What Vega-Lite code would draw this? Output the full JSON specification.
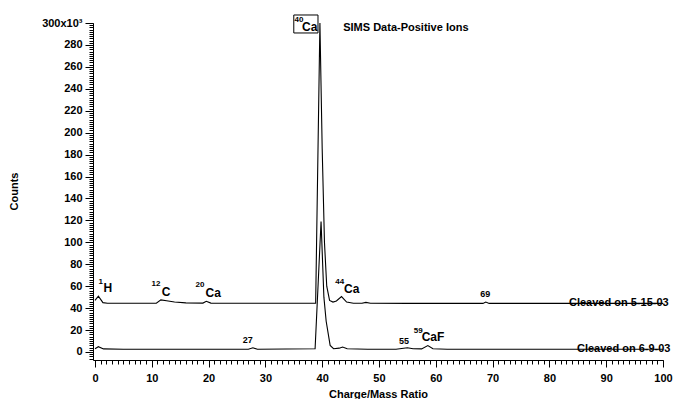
{
  "$schema": "https://vega.github.io/schema/vega-lite/v6.json",
  "autosize": {"type": "pad"},
  "width": 570,
  "height": 337,
  "padding": {"left": 8, "top": 14, "right": 5, "bottom": 5},
  "config": {
    "view": {"stroke": null},
    "font": "Liberation Sans",
    "text": {"font": "Liberation Sans", "fontWeight": "bold", "color": "black"},
    "axis": {
      "ticks": true,
      "domain": true,
      "tickColor": "#000",
      "domainColor": "#000",
      "labelFont": "Liberation Sans",
      "labelFontWeight": "bold",
      "labelFontSize": 11,
      "labelColor": "black",
      "titleFont": "Liberation Sans",
      "titleFontWeight": "bold",
      "titleFontSize": 11,
      "titleColor": "black",
      "grid": true,
      "gridOpacity": 0
    }
  },
  "resolve": {"axis": {"x": "independent", "y": "independent"}},
  "datasets": {
    "spectra": [
      {"mz": 0, "counts": 47, "sample": "5-15-03"},
      {"mz": 0.6, "counts": 51, "sample": "5-15-03"},
      {"mz": 1.4, "counts": 45, "sample": "5-15-03"},
      {"mz": 2.2, "counts": 44.5, "sample": "5-15-03"},
      {"mz": 6, "counts": 44.5, "sample": "5-15-03"},
      {"mz": 10.8, "counts": 44.5, "sample": "5-15-03"},
      {"mz": 11.6, "counts": 47.5, "sample": "5-15-03"},
      {"mz": 12.6, "counts": 46.8, "sample": "5-15-03"},
      {"mz": 14, "counts": 45.6, "sample": "5-15-03"},
      {"mz": 16, "counts": 44.8, "sample": "5-15-03"},
      {"mz": 19, "counts": 44.6, "sample": "5-15-03"},
      {"mz": 19.6, "counts": 46.2, "sample": "5-15-03"},
      {"mz": 20.4, "counts": 44.6, "sample": "5-15-03"},
      {"mz": 25, "counts": 44.5, "sample": "5-15-03"},
      {"mz": 30, "counts": 44.5, "sample": "5-15-03"},
      {"mz": 35, "counts": 44.5, "sample": "5-15-03"},
      {"mz": 38.85, "counts": 44.5, "sample": "5-15-03"},
      {"mz": 39.6, "counts": 300, "sample": "5-15-03"},
      {"mz": 40.0, "counts": 185, "sample": "5-15-03"},
      {"mz": 40.4, "counts": 100, "sample": "5-15-03"},
      {"mz": 40.8, "counts": 60, "sample": "5-15-03"},
      {"mz": 41.3, "counts": 47, "sample": "5-15-03"},
      {"mz": 41.9, "counts": 45.5, "sample": "5-15-03"},
      {"mz": 42.5, "counts": 46.5, "sample": "5-15-03"},
      {"mz": 43.4, "counts": 50.5, "sample": "5-15-03"},
      {"mz": 44.3, "counts": 45.5, "sample": "5-15-03"},
      {"mz": 45.5, "counts": 44.5, "sample": "5-15-03"},
      {"mz": 47, "counts": 44.5, "sample": "5-15-03"},
      {"mz": 47.7, "counts": 45.2, "sample": "5-15-03"},
      {"mz": 48.5, "counts": 44.5, "sample": "5-15-03"},
      {"mz": 55, "counts": 44.3, "sample": "5-15-03"},
      {"mz": 65, "counts": 44.3, "sample": "5-15-03"},
      {"mz": 68.3, "counts": 44.3, "sample": "5-15-03"},
      {"mz": 68.8, "counts": 45.5, "sample": "5-15-03"},
      {"mz": 69.4, "counts": 44.3, "sample": "5-15-03"},
      {"mz": 75, "counts": 44.3, "sample": "5-15-03"},
      {"mz": 100, "counts": 44.3, "sample": "5-15-03"},
      {"mz": 0, "counts": 3, "sample": "6-9-03"},
      {"mz": 0.6, "counts": 4.8, "sample": "6-9-03"},
      {"mz": 1.5, "counts": 2.8, "sample": "6-9-03"},
      {"mz": 5, "counts": 2.5, "sample": "6-9-03"},
      {"mz": 20, "counts": 2.5, "sample": "6-9-03"},
      {"mz": 27, "counts": 2.5, "sample": "6-9-03"},
      {"mz": 27.8, "counts": 3.8, "sample": "6-9-03"},
      {"mz": 28.6, "counts": 2.5, "sample": "6-9-03"},
      {"mz": 38.75, "counts": 3, "sample": "6-9-03"},
      {"mz": 39.8, "counts": 119, "sample": "6-9-03"},
      {"mz": 40.3, "counts": 50, "sample": "6-9-03"},
      {"mz": 40.7, "counts": 28, "sample": "6-9-03"},
      {"mz": 41.4, "counts": 6, "sample": "6-9-03"},
      {"mz": 42, "counts": 3, "sample": "6-9-03"},
      {"mz": 43, "counts": 3.5, "sample": "6-9-03"},
      {"mz": 43.6, "counts": 4.5, "sample": "6-9-03"},
      {"mz": 44.4, "counts": 3, "sample": "6-9-03"},
      {"mz": 48, "counts": 2.5, "sample": "6-9-03"},
      {"mz": 53, "counts": 2.5, "sample": "6-9-03"},
      {"mz": 55, "counts": 3.8, "sample": "6-9-03"},
      {"mz": 56, "counts": 3, "sample": "6-9-03"},
      {"mz": 57.5, "counts": 2.8, "sample": "6-9-03"},
      {"mz": 58.6, "counts": 5.8, "sample": "6-9-03"},
      {"mz": 59.5, "counts": 3, "sample": "6-9-03"},
      {"mz": 62, "counts": 2.5, "sample": "6-9-03"},
      {"mz": 100, "counts": 2.5, "sample": "6-9-03"}
    ],
    "notes": [
      {"mz": 1.0, "counts": 63.8, "text": "1", "kind": "sup"},
      {"mz": 10.74, "counts": 62.0, "text": "12", "kind": "sup"},
      {"mz": 18.5, "counts": 61.1, "text": "20", "kind": "sup"},
      {"mz": 43.1, "counts": 63.8, "text": "44", "kind": "sup"},
      {"mz": 56.9, "counts": 19, "text": "59", "kind": "sup"},
      {"mz": 35.9, "counts": 302.7, "text": "40", "kind": "sup"},
      {"mz": 2.24, "counts": 57.9, "text": "H", "kind": "el"},
      {"mz": 12.5, "counts": 54.7, "text": "C", "kind": "el"},
      {"mz": 20.8, "counts": 53.8, "text": "Ca", "kind": "el"},
      {"mz": 45.2, "counts": 57.4, "text": "Ca", "kind": "el"},
      {"mz": 59.5, "counts": 13.7, "text": "CaF", "kind": "el"},
      {"mz": 37.8, "counts": 296.4, "text": "Ca", "kind": "el"},
      {"mz": 68.7, "counts": 52.9, "text": "69", "kind": "num"},
      {"mz": 26.9, "counts": 10.9, "text": "27", "kind": "num"},
      {"mz": 54.4, "counts": 10, "text": "55", "kind": "num"},
      {"mz": 43.7, "counts": 295.4, "text": "SIMS Data-Positive Ions", "kind": "title"},
      {"mz": 83.45, "counts": 44.3, "text": "Cleaved on 5-15-03", "kind": "tag"},
      {"mz": 84.85, "counts": 2.7, "text": "Cleaved on 6-9-03", "kind": "tag"}
    ],
    "box": [
      {"mz": 35.0, "mz2": 39.26, "counts": 307.3, "counts2": 290.9}
    ]
  },
  "layer": [
    {
      "data": {"name": "spectra"},
      "mark": {"type": "line", "color": "black", "strokeWidth": 1.1},
      "encoding": {
        "x": {
          "field": "mz",
          "type": "quantitative",
          "scale": {"domain": [-0.35, 100], "nice": false, "zero": false},
          "axis": {
            "orient": "bottom",
            "title": "Charge/Mass Ratio",
            "tickCount": 10,
            "ticks": true,
            "domain": true,
            "tickColor": "#000",
            "domainColor": "#000",
            "tickSize": 7,
            "labelPadding": 5,
            "labelFlush": false,
            "titleX": 285,
            "titleY": 34,
            "titleBaseline": "middle"
          }
        },
        "y": {
          "field": "counts",
          "type": "quantitative",
          "scale": {"domain": [-7.3, 300], "nice": false, "zero": false},
          "axis": {
            "orient": "left",
            "title": "Counts",
            "tickCount": 15,
            "labelExpr": "datum.value === 300 ? '300x10³' : datum.label",
            "labelFlush": false,
            "ticks": true,
            "domain": true,
            "tickColor": "#000",
            "domainColor": "#000",
            "tickSize": 8,
            "labelPadding": 3,
            "titleX": -79,
            "titleY": 168,
            "titleAlign": "center",
            "titleBaseline": "middle"
          }
        },
        "detail": {"field": "sample"}
      }
    },
    {
      "data": {"name": "box"},
      "mark": {"type": "rect", "fill": null, "fillOpacity": 0, "stroke": "black", "strokeWidth": 1},
      "encoding": {
        "x": {
          "field": "mz",
          "type": "quantitative",
          "axis": {
            "orient": "bottom",
            "title": null,
            "labels": false,
            "domain": false,
            "ticks": true,
            "tickColor": "#000",
            "tickCount": 100,
            "tickSize": 4
          }
        },
        "x2": {"field": "mz2"},
        "y": {
          "field": "counts",
          "type": "quantitative",
          "axis": {
            "orient": "left",
            "title": null,
            "labels": false,
            "domain": false,
            "ticks": true,
            "tickColor": "#000",
            "tickCount": 150,
            "tickSize": 4
          }
        },
        "y2": {"field": "counts2"}
      }
    },
    {
      "data": {"name": "notes"},
      "transform": [{"filter": "datum.kind === 'sup'"}],
      "mark": {"type": "text", "fontSize": 8, "fontWeight": "bold", "align": "center", "baseline": "middle", "color": "black"},
      "encoding": {
        "x": {"field": "mz", "type": "quantitative", "axis": null},
        "y": {"field": "counts", "type": "quantitative", "axis": null},
        "text": {"field": "text"}
      }
    },
    {
      "data": {"name": "notes"},
      "transform": [{"filter": "datum.kind === 'el'"}],
      "mark": {"type": "text", "fontSize": 12, "fontWeight": "bold", "align": "center", "baseline": "middle", "color": "black"},
      "encoding": {
        "x": {"field": "mz", "type": "quantitative", "axis": null},
        "y": {"field": "counts", "type": "quantitative", "axis": null},
        "text": {"field": "text"}
      }
    },
    {
      "data": {"name": "notes"},
      "transform": [{"filter": "datum.kind === 'num'"}],
      "mark": {"type": "text", "fontSize": 9, "fontWeight": "bold", "align": "center", "baseline": "middle", "color": "black"},
      "encoding": {
        "x": {"field": "mz", "type": "quantitative", "axis": null},
        "y": {"field": "counts", "type": "quantitative", "axis": null},
        "text": {"field": "text"}
      }
    },
    {
      "data": {"name": "notes"},
      "transform": [{"filter": "datum.kind === 'title' || datum.kind === 'tag'"}],
      "mark": {"type": "text", "fontSize": 11, "fontWeight": "bold", "align": "left", "baseline": "middle", "color": "black"},
      "encoding": {
        "x": {"field": "mz", "type": "quantitative", "axis": null},
        "y": {"field": "counts", "type": "quantitative", "axis": null},
        "text": {"field": "text"}
      }
    }
  ]
}
